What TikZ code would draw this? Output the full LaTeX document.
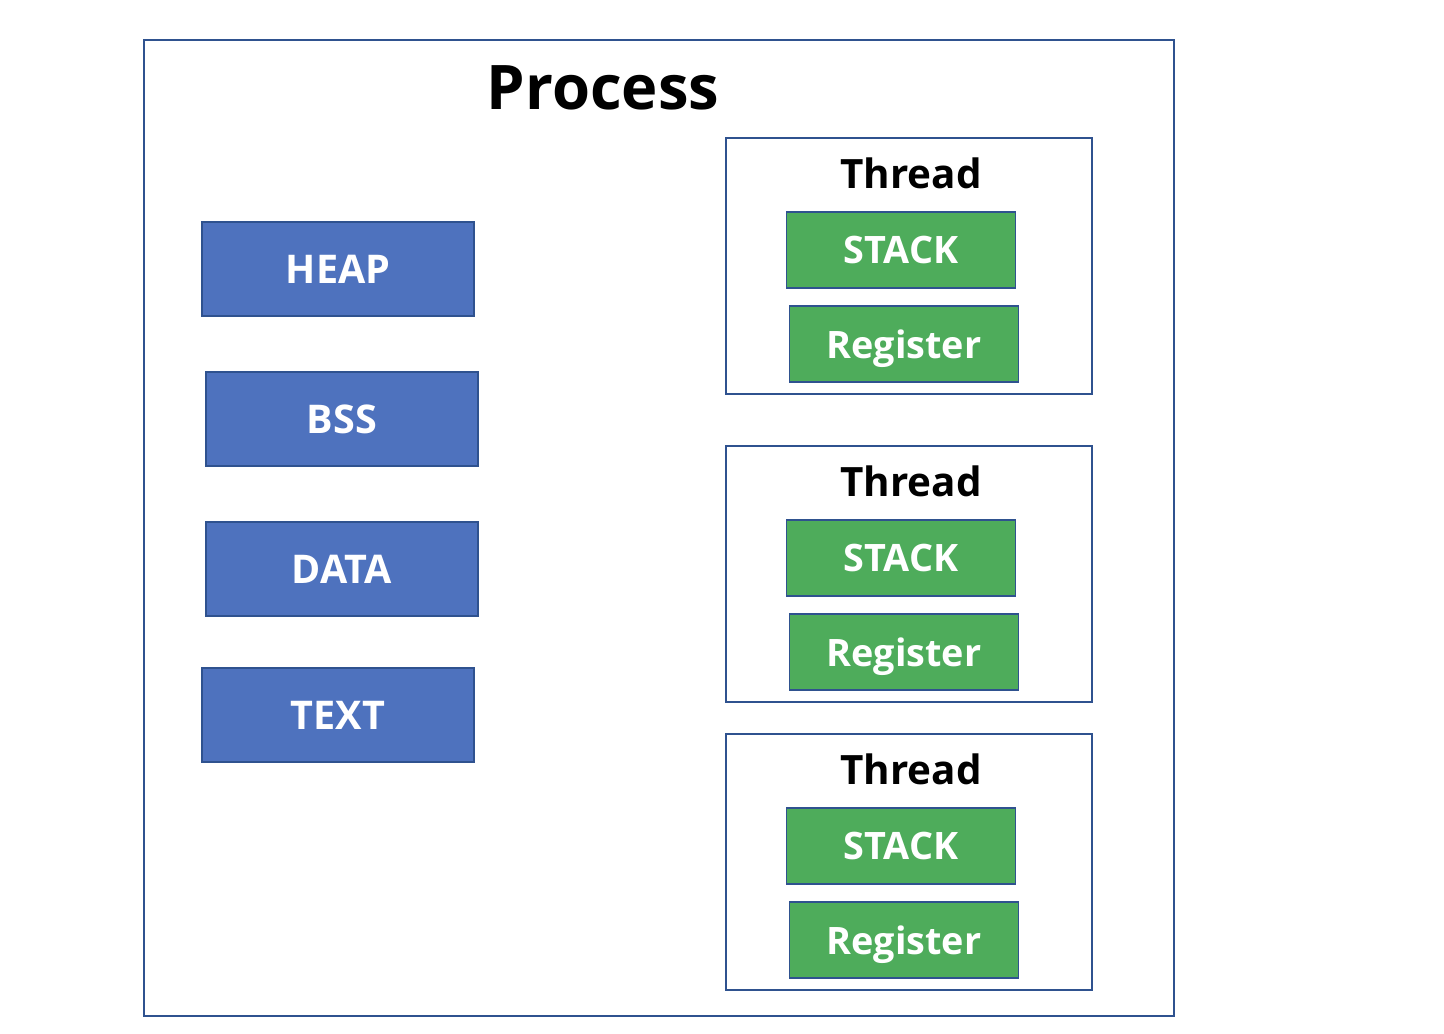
\documentclass[tikz,border=0pt]{standalone}
\usepackage{fontspec}
\setmainfont{Open Sans}
\definecolor{segblue}{HTML}{4E72BE}
\definecolor{stackgreen}{HTML}{4EAC5B}
\definecolor{edgeblue}{HTML}{2F528F}
\begin{document}
\begin{tikzpicture}[x=0.02cm, y=-0.02cm,
  segbox/.style={draw=edgeblue, line width=1.1pt, fill=segblue, text=white,
    font=\bfseries\fontsize{22.5}{27}\selectfont, inner sep=0pt,
    minimum width=5.44cm, minimum height=1.88cm},
  stackbox/.style={draw=edgeblue, line width=1.1pt, fill=stackgreen, text=white,
    font=\bfseries\fontsize{21.5}{26}\selectfont, inner sep=0pt, text depth=0pt,
    minimum width=4.58cm, minimum height=1.52cm},
  threadbox/.style={draw=edgeblue, line width=1pt, inner sep=0pt,
    minimum width=7.32cm, minimum height=5.12cm},
  threadlabel/.style={font=\bfseries\fontsize{23}{28}\selectfont}]
\useasboundingbox (0,0) rectangle (1444,1034);
% process frame
\node[draw=edgeblue, line width=0.9pt, inner sep=0pt, minimum width=20.6cm,
  minimum height=19.52cm] (proc) at (659,528) {};
\node[font=\bfseries\fontsize{35}{42}\selectfont] (title) at (603,88) {Process};
% memory segments
\node[segbox] (heap) at (338,269) {HEAP};
\node[segbox] (bss) at (342,419) {BSS};
\node[segbox] (data) at (342,569) {DATA};
\node[segbox] (text) at (338,715) {TEXT};
% threads
\foreach \i/\y in {1/138, 2/446, 3/734} {
  \node[threadbox] (thread\i) at (909,\y+128) {};
  \node[threadlabel] (tlabel\i) at (911,\y+35) {Thread};
  \node[stackbox] (stack\i) at (901,\y+112) {STACK};
  \node[stackbox] (reg\i) at (904,\y+206) {Register};
}
\end{tikzpicture}
\end{document}
